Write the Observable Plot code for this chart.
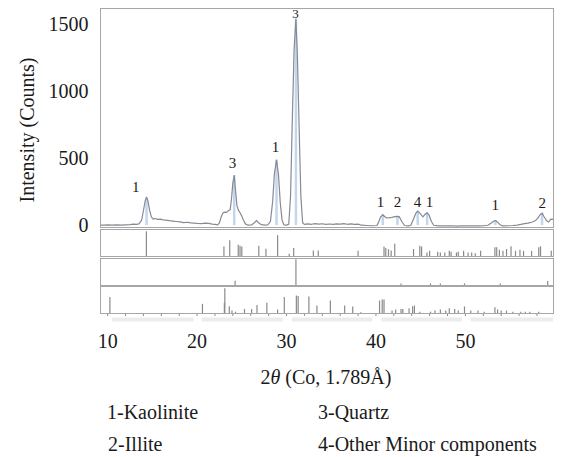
<!DOCTYPE html>
<html><head><meta charset="utf-8">
<script src="https://cdn.jsdelivr.net/npm/d3@7"></script>
<script src="https://cdn.jsdelivr.net/npm/@observablehq/plot@0.6"></script>
<style>
body{margin:0;background:#fff;font-family:"Liberation Serif",serif;}
#root{position:relative;width:564px;height:457px;overflow:hidden;}
.abs{position:absolute;left:0;}
.t{position:absolute;font-size:20px;line-height:20px;color:#1a1a1a;white-space:nowrap;font-family:"Liberation Serif",serif;}
</style></head><body><div id="root"></div>
<script>
// ---- main diffractogram (2theta in degrees, intensity in counts) ----
const traceTheta = [9.2,9.6,10.0,10.5,11.0,11.5,12.0,12.5,12.9,13.2,13.5,13.8,14.0,14.2,14.35,14.5,14.7,14.9,15.1,15.3,15.6,15.9,16.2,16.5,16.9,17.3,17.7,18.1,18.5,18.9,19.3,19.7,20.1,20.5,20.9,21.3,21.7,22.0,22.3,22.5,22.7,22.9,23.1,23.3,23.5,23.7,23.85,24.0,24.15,24.3,24.45,24.6,24.8,25.0,25.2,25.4,25.7,26.1,26.4,26.65,26.9,27.2,27.6,27.9,28.2,28.45,28.65,28.88,29.1,29.3,29.5,29.7,30.0,30.25,30.45,30.65,30.85,31.05,31.2,31.4,31.6,31.8,32.0,32.4,32.8,33.2,33.6,34.0,34.4,34.8,35.2,35.6,36.0,36.4,36.8,37.2,37.6,38.0,38.4,39.0,39.6,40.1,40.3,40.5,40.76,41.0,41.2,41.6,42.0,42.3,42.6,42.9,43.2,43.6,43.9,44.2,44.45,44.67,44.95,45.25,45.5,45.72,45.95,46.2,46.45,47.0,47.5,48.0,48.5,49.0,49.5,50.0,50.5,51.0,51.5,52.0,52.5,52.9,53.15,53.35,53.6,53.85,54.2,54.8,55.3,55.8,56.2,56.6,57.0,57.4,57.8,58.1,58.35,58.57,58.8,59.05,59.3,59.55,59.8];
const traceCounts = [3,2,4,3,4,3,5,6,10,8,12,40,110,185,210,185,110,62,48,52,46,48,42,40,36,33,30,27,22,24,19,17,15,14,18,16,10,8,4,20,65,95,100,98,110,118,200,320,373,260,150,117,95,70,38,12,2,4,20,37,18,6,3,5,30,180,390,488,380,170,40,5,3,10,220,800,1320,1540,1300,760,220,20,8,12,9,14,10,13,8,11,9,12,10,14,9,12,8,10,2,0,-2,0,25,62,80,65,56,58,64,68,66,28,0,-3,2,48,90,107,88,64,84,95,75,30,2,-3,-2,-3,-2,-4,-3,-2,-3,-2,-3,-2,2,18,32,37,25,6,-3,-2,0,3,8,14,18,24,35,55,80,92,65,38,26,48,45];

// fitted peak markers (light blue)
const peakTheta = [14.35,24.15,28.88,31.05,40.76,42.4,44.67,45.72,53.35,58.57];
const peakCounts = [210,373,488,1540,80,68,107,95,37,92];

// peak labels (phase number)
const labelText  = ["1","3","1","3","1","2","4","1","1","2"];
const labelTheta = [13.13,23.97,28.77,31.0,40.5,42.4,44.64,45.98,53.35,58.6];
const labelCounts= [284,463,582,1580,172,172,172,172,149,164];
const labelSize  = [15,15,15,13,15,15,15,15,15,15];

const yTicks = [0,500,1000,1500];
const xTickLabels = [10,20,30,40,50];
const minorTicks = [10,12,14,16,18,20,22,24,26,28,30,32,34,36,38,40,42,44,46,48,50,52,54,56,58];
const bandStart = [10.5,20.5,30.6,40.6,50.6];
const bandEnd   = [19.6,29.6,39.6,49.6,59.8];

// ---- reference stick patterns (relative intensity) ----
const ref1Theta = [14.33,23.0,23.65,24.6,24.8,25.0,26.9,27.7,29.0,30.3,30.8,33.0,33.55,38.0,40.9,41.1,41.4,41.7,42.1,44.2,44.9,45.1,45.7,46.0,46.9,47.2,47.7,48.2,48.4,49.0,49.2,49.8,50.3,50.7,51.1,51.7,53.3,53.5,53.8,54.2,54.6,55.1,55.6,56.1,56.5,57.4,58.2,58.4,59.6];
const ref1Int   = [0.92,0.35,0.58,0.42,0.38,0.35,0.38,0.27,0.77,0.08,0.3,0.2,0.2,0.19,0.35,0.3,0.25,0.2,0.45,0.26,0.38,0.35,0.13,0.19,0.16,0.13,0.13,0.19,0.16,0.13,0.16,0.19,0.13,0.13,0.1,0.19,0.32,0.32,0.23,0.19,0.26,0.36,0.19,0.23,0.19,0.19,0.32,0.36,0.19];
const ref2Theta = [24.25,31.05,42.8,46.1,47.2,49.9,53.9,59.2];
const ref2Int   = [0.16,0.95,0.06,0.06,0.06,0.06,0.06,0.15];
const ref3Theta = [10.25,20.6,23.05,23.1,23.6,23.9,24.3,25.3,26.1,26.7,27.8,29.0,29.75,31.1,31.3,32.5,33.4,34.9,36.5,37.4,38.3,40.4,40.7,40.9,41.8,42.2,42.8,43.0,43.7,44.1,44.3,44.9,46.1,46.6,47.2,47.8,48.2,48.8,49.2,49.9,50.6,51.4,52.1,53.3,53.6,54.0,54.6,55.3,56.2,56.7,57.2,58.2];
const ref3Int   = [0.59,0.34,0.38,0.92,0.25,0.09,0.05,0.15,0.15,0.3,0.38,0.13,0.59,0.65,0.63,0.61,0.28,0.46,0.28,0.24,0.03,0.46,0.5,0.5,0.09,0.13,0.15,0.15,0.18,0.25,0.28,0.05,0.05,0.09,0.13,0.09,0.18,0.15,0.09,0.24,0.09,0.09,0.05,0.21,0.13,0.09,0.09,0.05,0.05,0.05,0.05,0.05];

const xLabelHTML = "2<i>θ</i> (Co, 1.789Å)";
const yLabel = "Intensity (Counts)";
const legendItems = ["1-Kaolinite","3-Quartz","2-Illite","4-Other Minor components"];

// ---- build tables ----
const trace = traceTheta.map((t,i)=>({t, c: traceCounts[i]}));
const peaks = peakTheta.map((t,i)=>({t, c: peakCounts[i]}));
const labels = labelText.map((s,i)=>({s, t: labelTheta[i], c: labelCounts[i], f: labelSize[i]}));
const toSticks = (th, h) => th.map((t,i)=>({t, h: h[i]}));

const FONT = "Liberation Serif, serif";
const xDomain = [9.2, 59.85];
const W = 564, ML = 100, MR = 11;
const root = document.getElementById("root");

function place(node, top){
  node.classList.add("abs");
  node.style.top = top + "px";
  root.appendChild(node);
}

const main = Plot.plot({
  width: W, height: 228, marginLeft: ML, marginRight: MR, marginTop: 8, marginBottom: 1,
  x: {domain: xDomain, axis: null},
  y: {domain: [-15, 1620], axis: null},
  style: {fontFamily: FONT, fontSize: "20px", color: "#1a1a1a", background: "transparent", overflow: "visible"},
  marks: [
    Plot.ruleX(peaks, {x: "t", y1: 0, y2: "c", stroke: "#c3d6ec", strokeWidth: 2.5}),
    Plot.line(trace, {x: "t", y: "c", stroke: "#858a94", strokeWidth: 1.2}),
    Plot.frame({stroke: "#a6a6a6"}),
    Plot.text(labels, {x: "t", y: "c", text: "s", fontSize: d => d.f, fill: "#1a1a1a", fontFamily: FONT}),
    Plot.axisY({ticks: yTicks, tickSize: 0, tickPadding: 12, tickFormat: d3.format("d"), label: null, fontSize: 20, fontFamily: FONT})
  ]
});
place(main, 0);

function stickPanel(data, top, extra){
  const p = Plot.plot({
    width: W, height: 29 + (extra ? 40 : 0), marginLeft: ML, marginRight: MR, marginTop: 1, marginBottom: 1 + (extra ? 40 : 0),
    x: {domain: xDomain, axis: null},
    y: {domain: [0, 1], axis: null},
    style: {fontFamily: FONT, fontSize: "20px", color: "#1a1a1a", background: "transparent", overflow: "visible"},
    marks: [
      ...(extra ? [
        Plot.link(bandStart.map((s,i)=>({s, e: bandEnd[i]})), {x1: "s", x2: "e", y1: 0, y2: 0, dy: 6, stroke: "#ececec", strokeWidth: 4}),
        Plot.axisX({ticks: minorTicks, tickSize: 3, tickFormat: () => "", stroke: "#8c8c8c", label: null}),
        Plot.axisX({ticks: xTickLabels, tickSize: 0, tickPadding: 20, tickFormat: d3.format("d"), label: null, fontSize: 20, fontFamily: FONT})
      ] : []),
      Plot.ruleX(data, {x: "t", y1: 0, y2: "h", stroke: "#8a8a8a", strokeWidth: 1.2}),
      Plot.frame({stroke: "#a6a6a6"})
    ]
  });
  place(p, top);
}
stickPanel(toSticks(ref1Theta, ref1Int), 228, false);
stickPanel(toSticks(ref2Theta, ref2Int), 257, false);
stickPanel(toSticks(ref3Theta, ref3Int), 285, true);

function addText(html, style){
  const d = document.createElement("div");
  d.className = "t";
  d.innerHTML = html;
  Object.assign(d.style, style);
  root.appendChild(d);
  return d;
}
addText(xLabelHTML, {left: "326px", top: "367px", transform: "translateX(-50%)"});
addText(yLabel, {left: "27px", top: "130px", transform: "translate(-50%,-50%) rotate(-90deg)"});
addText(legendItems[0], {left: "107px", top: "402px"});
addText(legendItems[1], {left: "318px", top: "402px"});
addText(legendItems[2], {left: "108px", top: "434px"});
addText(legendItems[3], {left: "318px", top: "434px"});
</script></body></html>
